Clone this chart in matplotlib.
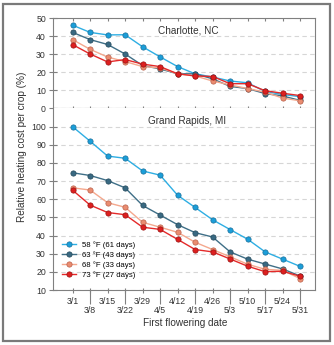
import numpy as np
import matplotlib.pyplot as plt
from matplotlib.patches import Rectangle

plt.rcParams['font.family'] = ['Liberation Sans', 'DejaVu Sans']

# Data
dates = ['3/1', '3/8', '3/15', '3/22', '3/29', '4/5', '4/12',
         '4/19', '4/26', '5/3', '5/10', '5/17', '5/24', '5/31']
series_names = ['58 °F (61 days)', '63 °F (43 days)', '68 °F (33 days)', '73 °F (27 days)']

charlotte_58 = [46, 42, 40.6, 40.7, 34, 28.4, 23, 19, 17.2, 15, 14, 9.2, 7.5, 6.3]
charlotte_63 = [42, 38, 35.3, 30, 23.6, 21.7, 19, 19, 16.2, 12, 10.8, 8, 6.7, 4.2]
charlotte_68 = [38, 32.6, 28.3, 25.8, 23, 22.3, 19, 17.8, 15, 12.8, 10.8, 8.8, 5.5, 4]
charlotte_73 = [35.2, 30, 25.6, 26.9, 24.4, 23, 19, 17.8, 17.5, 13.5, 13.5, 9.6, 8.2, 6.9]

grand_rapids_58 = [100, 92, 83.8, 82.6, 75.6, 73.3, 62.2, 55.5, 48.7, 43.3, 38, 31, 27, 23]
grand_rapids_63 = [74.6, 73.1, 70.3, 66.3, 56.6, 51.3, 46, 41.6, 39.2, 31, 27, 24.3, 21.6, 17.7]
grand_rapids_68 = [66.3, 65.1, 58.1, 55.6, 47.3, 44.6, 41.8, 36.3, 32.3, 28.3, 24.2, 21.4, 20.8, 16.3]
grand_rapids_73 = [65, 56.8, 52.7, 51.5, 44.6, 43.4, 37.9, 32.3, 31, 27.1, 23.1, 20.1, 20.3, 17.6]

line_colors = ['#2eaee3', '#3f6f87', '#f4a88e', '#e42a2a']
face_colors = ['#1b9ed9', '#396982', '#ea8c70', '#dd1f1f']
edge_colors = ['#1a6f99', '#23485a', '#b9604a', '#991111']

gray = '#808080'
x = np.arange(len(dates))

fig = plt.figure(figsize=(3.34, 3.45), dpi=100)
ax1 = fig.add_axes([53/334, 1-108/345, 262/334, 90/345])
ax2 = fig.add_axes([53/334, 1-290/345, 262/334, 182/345])

def style(ax):
    for s in ax.spines.values():
        s.set_color(gray)
        s.set_linewidth(0.8)
    ax.tick_params(axis='y', direction='inout', length=5.8, width=0.8, color=gray,
                   pad=2.2, labelsize=6.3, labelcolor='#333333')
    ax.yaxis.grid(True, linestyle=(0, (4, 3)), color='#d6d6d6', linewidth=0.8)
    ax.set_axisbelow(True)
    ax.set_xlim(-1.12, 13.85)

def draw(ax, data):
    for vals, lc, fc, ec, name in zip(data, line_colors, face_colors, edge_colors, series_names):
        ax.plot(x, vals, color=lc, linewidth=1.0, marker='o', markersize=3.8,
                markerfacecolor=fc, markeredgecolor=ec, markeredgewidth=0.5, label=name)

# Charlotte
style(ax1)
draw(ax1, [charlotte_58, charlotte_63, charlotte_68, charlotte_73])
ax1.set_ylim(0, 50)
ax1.set_yticks(range(0, 51, 10))
ax1.set_xticks(x)
ax1.tick_params(axis='x', direction='inout', length=3.6, width=0.8, color=gray,
                labelbottom=False)
top = ax1.secondary_xaxis('top')
top.set_xticks(x)
top.tick_params(direction='in', length=2.2, width=0.8, color=gray, labeltop=False)
top.spines['top'].set_visible(False)
ax1.text(0.515, 0.856, 'Charlotte, NC', transform=ax1.transAxes, ha='center',
         va='center', fontsize=7.2, color='#333333')

# Grand Rapids
style(ax2)
ax2.spines['top'].set_visible(False)
draw(ax2, [grand_rapids_58, grand_rapids_63, grand_rapids_68, grand_rapids_73])
ax2.set_ylim(10, 110.3)
ax2.set_yticks(range(10, 101, 10))
ax2.xaxis.remove_overlapping_locs = False
ax2.set_xticks(x, [d if i % 2 == 0 else '' for i, d in enumerate(dates)])
ax2.set_xticks(x[1::2], dates[1::2], minor=True)
ax2.tick_params(axis='x', which='major', direction='inout', length=3.6, width=0.8,
                color=gray, pad=3.6, labelsize=6.3, labelcolor='#333333')
ax2.tick_params(axis='x', which='minor', direction='out', length=10, width=0.8,
                color=gray, pad=1.8, labelsize=6.3, labelcolor='#333333')
ax2.text(0.513, 0.9286, 'Grand Rapids, MI', transform=ax2.transAxes, ha='center',
         va='center', fontsize=7.2, color='#333333')

ax2.legend(loc='upper left', bbox_to_anchor=(62/334, 1-241/345),
           bbox_transform=fig.transFigure, frameon=False, fontsize=5.6,
           handlelength=1.8, handletextpad=0.8, labelspacing=0.3,
           borderpad=0, borderaxespad=0)

fig.text(22/334, 1-147/345, 'Relative heating cost per crop (%)', rotation=90,
         ha='center', va='center', fontsize=7.2, color='#333333')
fig.text(185.5/334, 1-322.5/345, 'First flowering date', ha='center', va='center',
         fontsize=7.2, color='#333333')

fig.patches.append(Rectangle((3/334, 4/345), 327/334, 337/345, transform=fig.transFigure,
                             fill=False, edgecolor='#7a7a7a', linewidth=1.6))

fig.savefig('out.png', dpi=100)
